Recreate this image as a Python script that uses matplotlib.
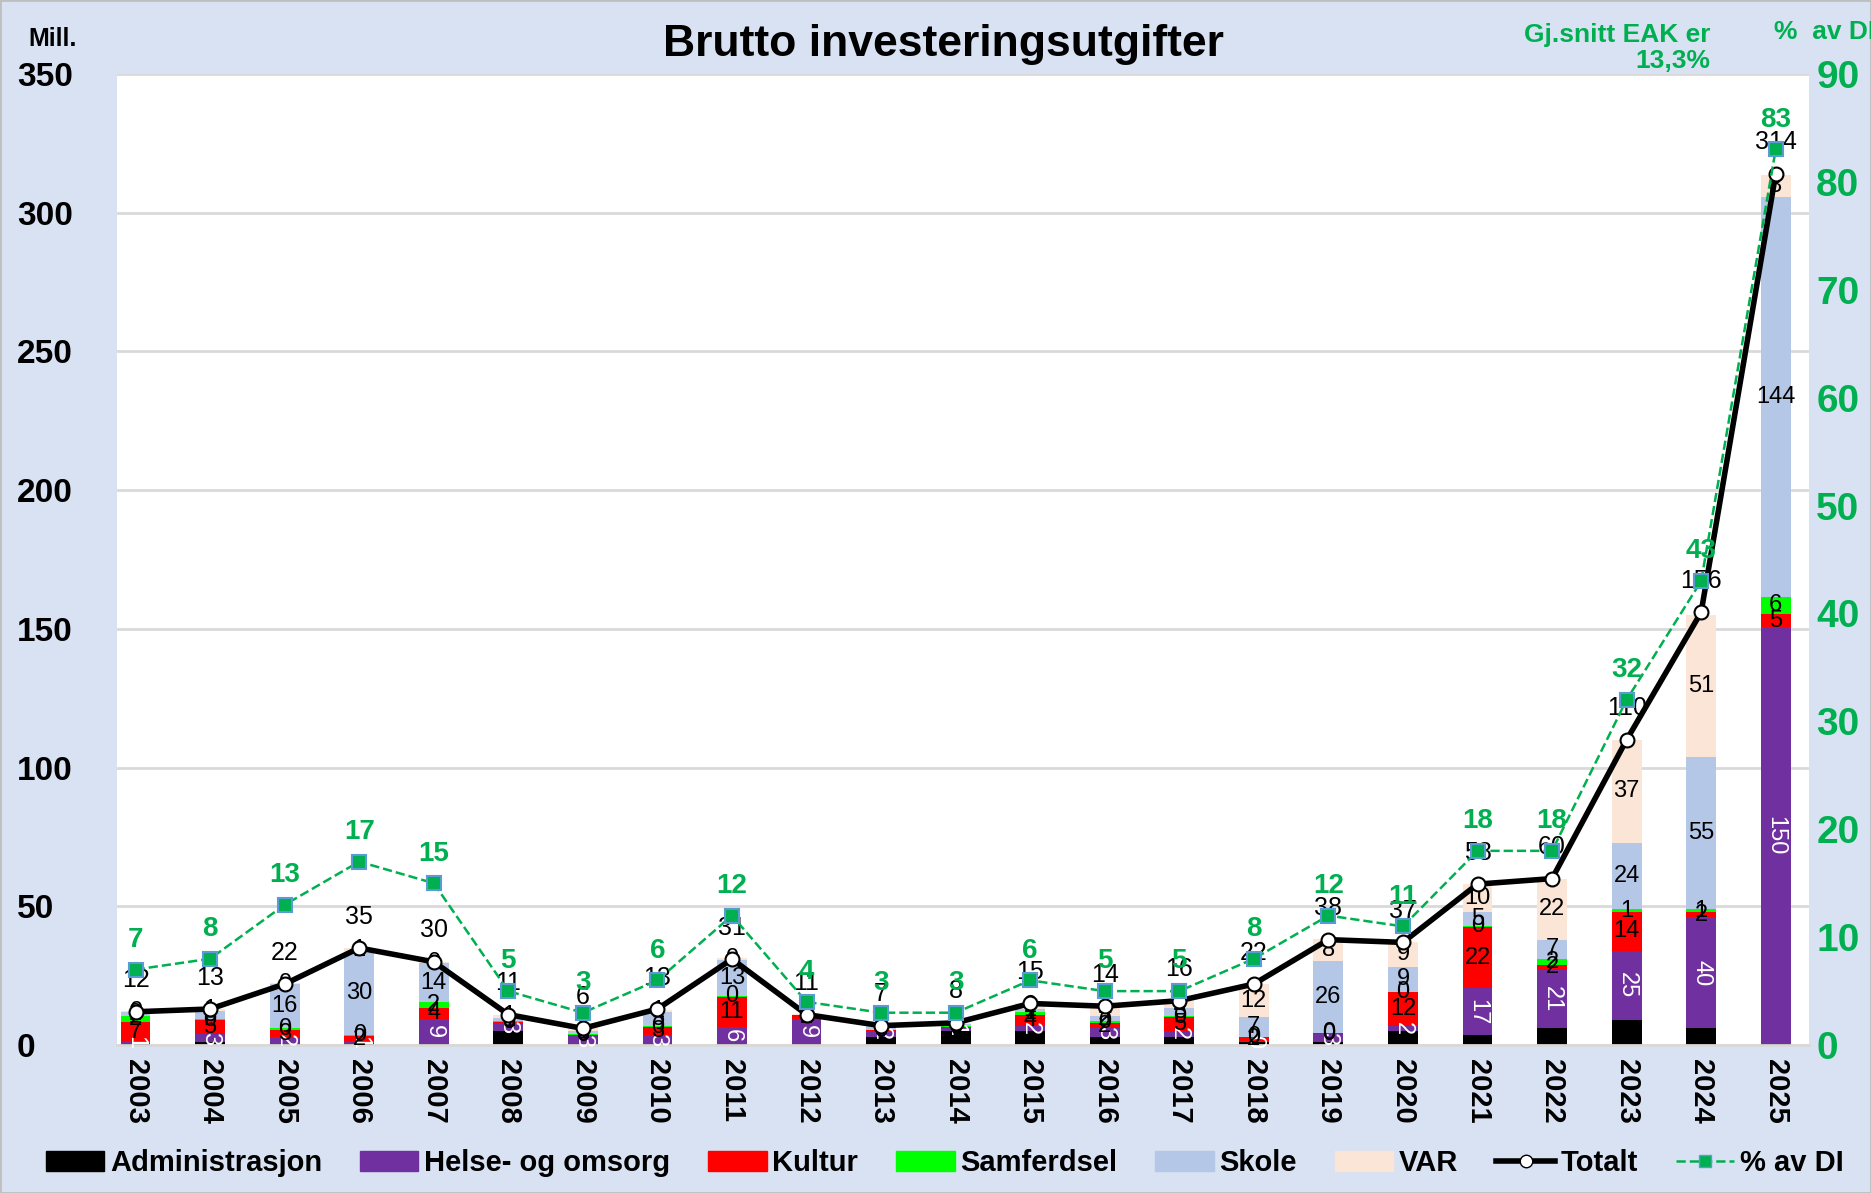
import matplotlib
matplotlib.use("Agg")
import matplotlib.pyplot as plt
import numpy as np
from matplotlib.lines import Line2D
from matplotlib.patches import Patch

plt.rcParams['font.family'] = ['Liberation Sans', 'DejaVu Sans']

years = [str(y) for y in range(2003, 2026)]
admin = [0.3, 1, 0.3, 0.3, 0.5, 5, 0.3, 0.5, 0.5, 0.3, 3, 5, 5, 3, 3, 1, 1, 5, 3.5, 6, 9, 6, 0.5]
helse = [1, 3, 2.5, 1, 9, 3, 3, 3, 6, 9, 2, 1, 2, 3, 2, 0.3, 3, 2, 17, 21, 25, 40, 150]
kultur = [7, 5, 2.7, 2, 4, 0.3, 0.3, 3, 11, 1.5, 0.5, 0.5, 4, 2, 5, 1.5, 0.3, 12, 22, 2, 14, 2, 5]
samferdsel = [2, 0.3, 0.5, 0.3, 2, 0.3, 0.5, 0.3, 0.3, 0, 0, 0.5, 1, 0.5, 0.5, 0.2, 0, 0.3, 0.5, 2, 1, 1, 6]
skole = [1.5, 3, 16, 30, 14, 1, 1, 5, 13, 0, 1.5, 0.5, 1, 2, 3, 7, 26, 9, 5, 7, 24, 55, 144]
var = [0.3, 0.7, 0.3, 1.4, 0.5, 1.4, 1, 1, 0.5, 0.3, 0, 0.5, 2, 3.5, 2.5, 12, 8, 9, 10, 22, 37, 51, 8]
totalt = [12, 13, 22, 35, 30, 11, 6, 13, 31, 11, 7, 8, 15, 14, 16, 22, 38, 37, 58, 60, 110, 156, 314]
pct_di = [7, 8, 13, 17, 15, 5, 3, 6, 12, 4, 3, 3, 6, 5, 5, 8, 12, 11, 18, 18, 32, 43, 83]

series = [("Administrasjon", admin, "#000000"),
          ("Helse- og omsorg", helse, "#7030A0"),
          ("Kultur", kultur, "#FF0000"),
          ("Samferdsel", samferdsel, "#00FF00"),
          ("Skole", skole, "#B4C7E7"),
          ("VAR", var, "#FBE5D6")]

bg = "#D9E2F3"
green = "#00B050"

fig = plt.figure(figsize=(18.71, 11.93), dpi=100, facecolor=bg)
ax = fig.add_axes([0.0625, 0.124, 0.9045, 0.814])
ax.set_facecolor("white")
x = np.arange(len(years))

# stacked bars with a value label in each segment
bottom = np.zeros(len(years))
for name, vals, col in series:
    vals = np.array(vals, dtype=float)
    ax.bar(x, vals, 0.4, bottom=bottom, color=col, zorder=2)
    if name != "Administrasjon":
        for i, v in enumerate(vals):
            yc = bottom[i] + v / 2
            if name == "Helse- og omsorg":
                ax.text(x[i], yc, f"{v:.0f}", color="white", rotation=-90, ha="center",
                        va="center", fontsize=17, zorder=3)
            else:
                ax.text(x[i], yc, f"{v:.0f}", color="black", ha="center", va="center",
                        fontsize=17, zorder=3)
    bottom += vals

ax.plot(x, totalt, color="black", lw=4, marker="o", ms=10, mfc="white", mec="black",
        mew=1.5, zorder=4)
for i, t in enumerate(totalt):
    ax.annotate(str(t), (x[i], t), xytext=(0, 14), textcoords="offset points",
                ha="center", va="bottom", fontsize=18, zorder=5)

ax.set_ylim(0, 350)
ax.set_xlim(-0.25, 22.45)
ax.set_yticks(range(0, 351, 50))
ax.grid(axis="y", color="#D9D9D9", lw=2, zorder=0)
ax.set_axisbelow(True)
for s in ["top", "right", "left"]:
    ax.spines[s].set_visible(False)
ax.spines["bottom"].set_color("#D9D9D9")
ax.spines["bottom"].set_linewidth(2)
ax.tick_params(axis="y", length=0, labelsize=24, pad=72)
for lab in ax.get_yticklabels():
    lab.set_fontweight("bold")
    lab.set_horizontalalignment("left")
ax.set_xticks(x)
ax.set_xticklabels(years, rotation=-90, fontsize=21, fontweight="bold")
ax.tick_params(axis="x", length=0, pad=10)

# % av DI on the right axis
ax2 = ax.twinx()
ax2.plot(x, pct_di, color=green, lw=1.8, ls="--", marker="s", ms=10, mfc=green,
         mec="#5B9BD5", mew=1.5, zorder=3)
for i, p in enumerate(pct_di):
    ax2.annotate(str(p), (x[i], p), xytext=(0, 12), textcoords="offset points",
                 ha="center", va="bottom", fontsize=20, fontweight="bold", color=green)
ax2.set_ylim(0, 90)
ax2.set_yticks(range(0, 91, 10))
for s in ["top", "right", "left", "bottom"]:
    ax2.spines[s].set_visible(False)
ax2.tick_params(axis="y", length=0, labelsize=28, labelcolor=green, pad=5)
for lab in ax2.get_yticklabels():
    lab.set_fontweight("bold")

fig.text(0.504, 0.963, "Brutto investeringsutgifter", ha="center", va="center",
         fontsize=32, fontweight="bold")
fig.text(0.015, 0.967, "Mill.", ha="left", va="center", fontsize=18, fontweight="bold")
fig.text(0.914, 0.96, "Gj.snitt EAK er\n13,3%", ha="right", va="center", fontsize=19,
         fontweight="bold", color=green, linespacing=1.1)
fig.text(0.948, 0.973, "%  av DI", ha="left", va="center", fontsize=19,
         fontweight="bold", color=green)

handles = [Patch(color=c, label=n) for n, _, c in series]
handles.append(Line2D([], [], color="black", lw=4, marker="o", ms=9, mfc="white",
                      mec="black", label="Totalt"))
handles.append(Line2D([], [], color=green, lw=1.8, ls="--", marker="s", ms=8, mfc=green,
                      mec="#5B9BD5", label="% av DI"))
fig.legend(handles=handles, loc="center", bbox_to_anchor=(0.505, 0.025), ncol=8,
           frameon=False, prop={"size": 21, "weight": "bold"}, handlelength=2.0,
           handletextpad=0.2, columnspacing=1.3)

fig.patches.append(plt.Rectangle((0, 0), 1, 1, transform=fig.transFigure, fill=False,
                                 ec="#BFBFBF", lw=2))
fig.savefig("out.png", dpi=100, facecolor=bg)
